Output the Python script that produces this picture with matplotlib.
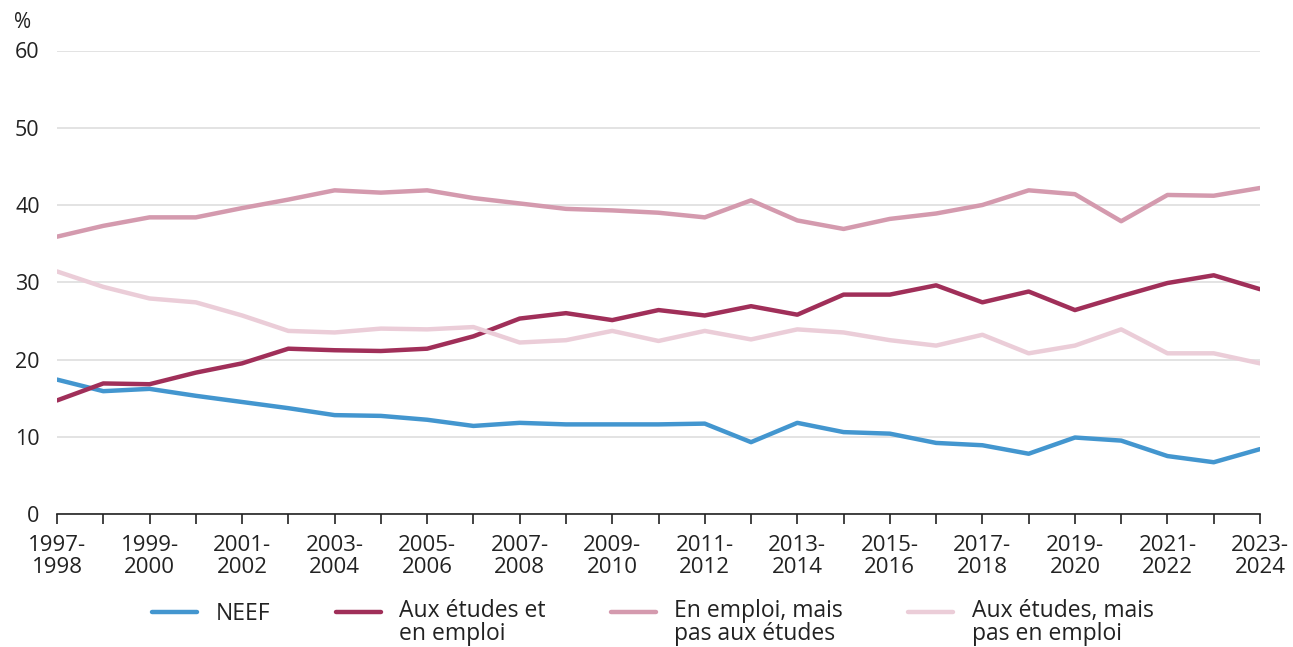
import numpy as np
import matplotlib
matplotlib.use("Agg")
import matplotlib.pyplot as plt
from matplotlib.transforms import Affine2D

plt.rcParams['font.family'] = ['Open Sans', 'DejaVu Sans']

# années scolaires 1997-1998 ... 2023-2024
annees = list(range(1997, 2024))
etiquettes = [f"{a}-\n{a + 1}" for a in annees]

neef = [17.4, 15.9, 16.2, 15.3, 14.5, 13.7, 12.8, 12.7, 12.2, 11.4, 11.8, 11.6, 11.6, 11.6,
        11.7, 9.3, 11.8, 10.6, 10.4, 9.2, 8.9, 7.8, 9.9, 9.5, 7.5, 6.7, 8.4]
etudes_emploi = [14.7, 16.9, 16.8, 18.3, 19.5, 21.4, 21.2, 21.1, 21.4, 23.0, 25.3, 26.0, 25.1, 26.4,
                 25.7, 26.9, 25.8, 28.4, 28.4, 29.6, 27.4, 28.8, 26.4, 28.2, 29.9, 30.9, 29.1]
emploi_pas_etudes = [35.9, 37.3, 38.4, 38.4, 39.6, 40.7, 41.9, 41.6, 41.9, 40.9, 40.2, 39.5, 39.3, 39.0,
                     38.4, 40.6, 38.0, 36.9, 38.2, 38.9, 40.0, 41.9, 41.4, 37.9, 41.3, 41.2, 42.2]
etudes_pas_emploi = [31.4, 29.4, 27.9, 27.4, 25.7, 23.7, 23.5, 24.0, 23.9, 24.2, 22.2, 22.5, 23.7, 22.4,
                     23.7, 22.6, 23.9, 23.5, 22.5, 21.8, 23.2, 20.8, 21.8, 23.9, 20.8, 20.8, 19.5]

series = [
    ("NEEF", neef, "#4396cf"),
    ("Aux études et\nen emploi", etudes_emploi, "#a02f59"),
    ("En emploi, mais\npas aux études", emploi_pas_etudes, "#d49aae"),
    ("Aux études, mais\npas en emploi", etudes_pas_emploi, "#ebcdd8"),
]

texte = "#222222"

fig = plt.figure(figsize=(12.93, 6.47), dpi=100)
ax = fig.add_axes([57 / 1293, 1 - 514 / 647, (1260 - 57) / 1293, (514 - 50.5) / 647])

x = np.arange(len(annees))
for nom, vals, coul in series:
    ax.plot(x, vals, color=coul, lw=3.2, label=nom, solid_capstyle='round', solid_joinstyle='round')

ax.set_xlim(0, len(annees) - 1)
ax.set_ylim(0, 60)
ax.set_yticks([0, 10, 20, 30, 40, 50, 60])
ax.grid(axis='y', color='#dedede', lw=1.2)
ax.set_axisbelow(True)
for s in ['top', 'right', 'left']:
    ax.spines[s].set_visible(False)
ax.spines['bottom'].set_color('#222222')
ax.spines['bottom'].set_linewidth(1.2)

ax.set_xticks(x)
ax.set_xticklabels([e if i % 2 == 0 else "" for i, e in enumerate(etiquettes)],
                   fontsize=16, color=texte, linespacing=1.05)
ax.tick_params(axis='x', length=7, width=1.2, color='#222222', pad=8)
ax.tick_params(axis='y', length=0, pad=12.5, labelsize=15.5, labelcolor=texte)

fig.text(14 / 1293, 1 - 22 / 647, "%", fontsize=15, color=texte, va='center', ha='left')

leg = fig.legend(loc='upper center', bbox_to_anchor=(0.505, 0.093), ncol=4, frameon=False,
                 fontsize=16.5, handlelength=1.97, handletextpad=0.8, columnspacing=2.85,
                 labelcolor=texte, borderaxespad=0, borderpad=0)
# première ligne du libellé alignée sur le trait, comme dans l'original
for t in leg.get_texts():
    t.set_linespacing(0.98)
    if "\n" in t.get_text():
        t.set_transform(t.get_transform() + Affine2D().translate(0, -12))

fig.savefig("out.png", dpi=100)
